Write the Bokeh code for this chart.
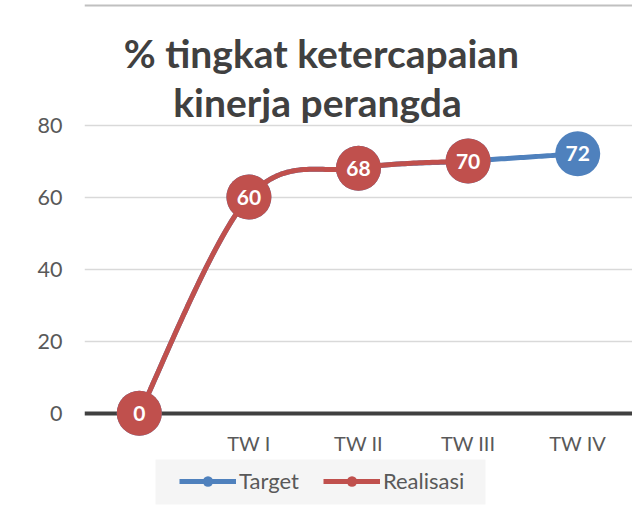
from bokeh.plotting import figure
from bokeh.models import (ColumnDataSource, Range1d, FixedTicker, Label, Legend,
                          LegendItem, Span, BoxAnnotation)
from bokeh.core.properties import value
from bokeh.embed import file_html
from bokeh.resources import INLINE

# ---- data ----
categories = ["", "TW I", "TW II", "TW III", "TW IV"]
target = [0, 60, 68, 70, 72]
realisasi = [0, 60, 68, 70]
y_ticks = [0, 20, 40, 60, 80]
title_lines = ["% tingkat ketercapaian", "kinerja perangda"]

BLUE = "#4f81bd"
RED = "#c0504d"
TXT = "#595959"
FONT = "Lato"


def smooth(xs, ys, n=40):
    """Excel-like smoothed line: cubic Bezier between points (tension 1/6)."""
    px, py = [], []
    m = len(xs)
    for i in range(m - 1):
        x0, y0 = xs[i], ys[i]
        x3, y3 = xs[i + 1], ys[i + 1]
        xa, ya = (xs[i - 1], ys[i - 1]) if i > 0 else (x0, y0)
        xb, yb = (xs[i + 2], ys[i + 2]) if i + 2 < m else (x3, y3)
        x1, y1 = x0 + (x3 - xa) / 6, y0 + (y3 - ya) / 6
        x2, y2 = x3 - (xb - x0) / 6, y3 - (yb - y0) / 6
        for k in range(n + 1):
            if i > 0 and k == 0:
                continue
            t = k / n
            a, b, c, d = (1 - t) ** 3, 3 * (1 - t) ** 2 * t, 3 * (1 - t) * t ** 2, t ** 3
            px.append(a * x0 + b * x1 + c * x2 + d * x3)
            py.append(a * y0 + b * y1 + c * y2 + d * y3)
    return px, py


xs_t = list(range(len(target)))
xs_r = list(range(len(realisasi)))

Y_TOP = 114.56
Y_BOT = -29.23

p = figure(width=632, height=518, output_backend="svg", toolbar_location=None,
           x_range=Range1d(-0.5, 4.5), y_range=Range1d(Y_BOT, Y_TOP),
           min_border_left=84, min_border_right=0, min_border_top=0,
           min_border_bottom=0)
p.outline_line_color = None
p.background_fill_color = "white"
p.border_fill_color = "white"

# axes
xa = p.xaxis[0]
xa.fixed_location = 0
xa.level = "underlay"
xa.ticker = FixedTicker(ticks=xs_t)
xa.major_label_overrides = {i: c for i, c in enumerate(categories)}
xa.axis_line_color = "#404040"
xa.axis_line_width = 4
xa.major_tick_line_color = None
xa.minor_tick_line_color = None
xa.major_label_standoff = 12
xa.major_label_text_font = FONT
xa.major_label_text_font_size = "20px"
xa.major_label_text_color = TXT

ya = p.yaxis[0]
ya.ticker = FixedTicker(ticks=y_ticks)
ya.axis_line_color = None
ya.major_tick_line_color = None
ya.minor_tick_line_color = None
ya.major_tick_out = 0
ya.major_label_standoff = 22
ya.major_label_text_font = FONT
ya.major_label_text_font_size = "21.5px"
ya.major_label_text_color = TXT

p.xgrid.grid_line_color = None
p.ygrid.ticker = FixedTicker(ticks=[t for t in y_ticks if t != 0])
p.ygrid.grid_line_color = "#d9d9d9"
p.ygrid.grid_line_width = 1.5

# top border line
p.add_layout(Span(location=113.17, dimension="width", line_color="#c0c0c0", line_width=2))

# series
tx, ty = smooth(xs_t, target)
rx, ry = smooth(xs_r, realisasi)

src_t = ColumnDataSource(dict(x=xs_t, y=target, lab=[str(v) for v in target]))
src_r = ColumnDataSource(dict(x=xs_r, y=realisasi, lab=[str(v) for v in realisasi]))

lt = p.line(tx, ty, line_color=BLUE, line_width=5)
ct = p.scatter("x", "y", source=src_t, size=45, fill_color=BLUE, line_color=None)
p.text("x", "y", text="lab", source=src_t, text_align="center", text_baseline="middle",
       text_font=value(FONT), text_font_style="bold", text_font_size="21px",
       text_color="white")
lr = p.line(rx, ry, line_color=RED, line_width=5)
cr = p.scatter("x", "y", source=src_r, size=45, fill_color=RED, line_color=None)
p.text("x", "y", text="lab", source=src_r, text_align="center", text_baseline="middle",
       text_font=value(FONT), text_font_style="bold", text_font_size="21px",
       text_color="white")

# title
for txt, xx, yy in zip(title_lines, [1.662, 1.626], [100.1, 86.25]):
    p.add_layout(Label(x=xx, y=yy, text=txt, text_align="center",
                       text_baseline="alphabetic", text_font=FONT,
                       text_font_style="bold", text_font_size="39px",
                       text_color="#404040"))

# legend background
p.add_layout(BoxAnnotation(left=0.148, right=3.159, top=-12.85, bottom=-25.34,
                           fill_color="#f5f5f5", fill_alpha=1, line_color=None,
                           level="annotation"))

legend = Legend(items=[LegendItem(label="Target", renderers=[lt, ct]),
                       LegendItem(label="Realisasi", renderers=[lr, cr])],
                orientation="horizontal", location=(95, 24),
                spacing=24, label_standoff=3, glyph_width=57, glyph_height=26,
                label_height=26, padding=0, margin=0,
                background_fill_alpha=0,
                border_line_color=None, label_text_font=FONT,
                label_text_font_size="22px", label_text_color=TXT)
p.add_layout(legend)

open("out.html", "w").write(file_html(p, INLINE))
